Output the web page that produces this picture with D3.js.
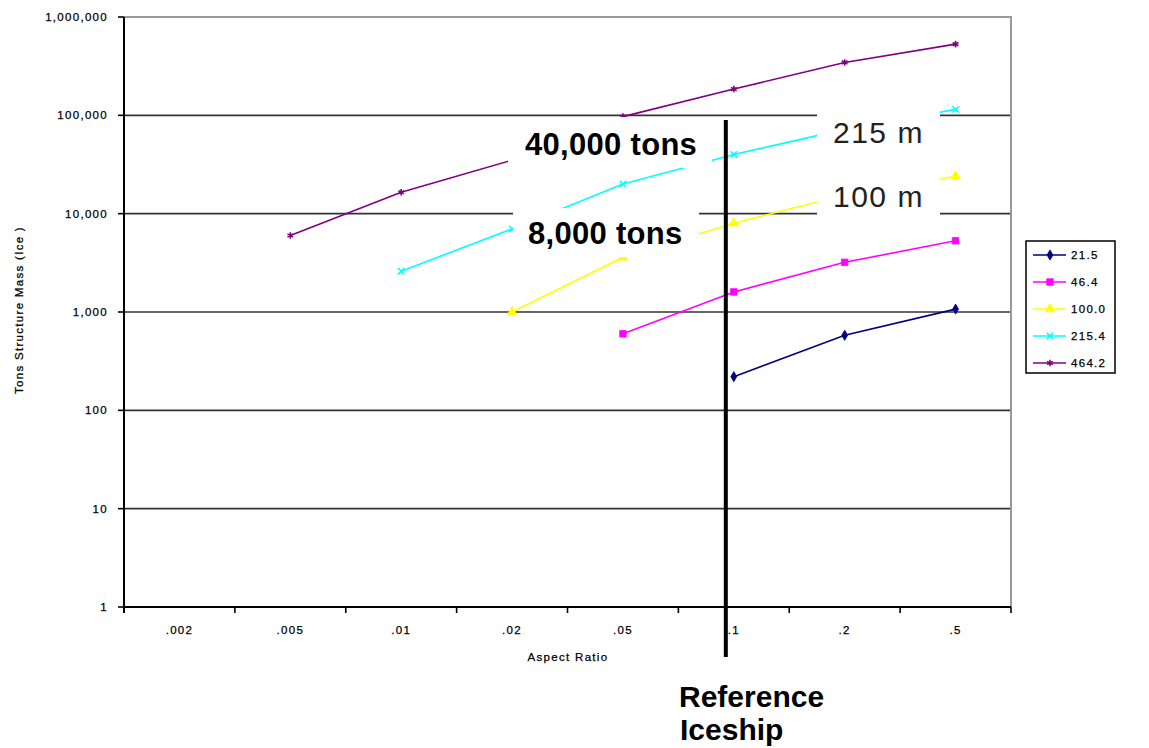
<!DOCTYPE html>
<html>
<head>
<meta charset="utf-8">
<script src="https://cdn.jsdelivr.net/npm/d3@7"></script>
<style>
  html, body { margin: 0; padding: 0; background: #fff; }
  svg { display: block; }
  .tick-label { font-family: "Liberation Sans", Arial, sans-serif; font-size: 11.5px; letter-spacing: 1.3px; fill: #000; stroke: #000; stroke-width: 0.25px; }
</style>
</head>
<body>
<svg id="chart" width="1149" height="748"></svg>
<script>
// Aspect ratio categories (x) and structure mass per ship length (tons of ice)
const categories = [".002", ".005", ".01", ".02", ".05", ".1", ".2", ".5"];
const seriesNames = ["21.5", "46.4", "100.0", "215.4", "464.2"];
const mass21_5  = [null, null, null, null, null, 220, 580, 1070];
const mass46_4  = [null, null, null, null, 600, 1600, 3200, 5300];
const mass100_0 = [null, null, null, 1000, 3600, 8000, 15500, 24000];
const mass215_4 = [null, null, 2600, 7000, 20000, 40000, 72000, 115000];
const mass464_2 = [null, 6000, 16500, 35000, 97000, 185000, 345000, 530000];
const yTicks = [1, 10, 100, 1000, 10000, 100000, 1000000];
const referenceCategory = ".1";

const seriesValues = [mass21_5, mass46_4, mass100_0, mass215_4, mass464_2];
const seriesColors = ["#000080", "#ff00ff", "#ffff00", "#00ffff", "#800080"];
const seriesSymbols = [d3.symbolDiamond, d3.symbolSquare, d3.symbolTriangle, d3.symbolTimes, d3.symbolAsterisk];
const symbolSizes = [30, 42, 40, 28, 30];
const strokeSymbol = [false, false, false, true, true];

const svg = d3.select("#chart");
const plot = { left: 124, right: 1011, top: 17, bottom: 607 };

const x = d3.scaleBand().domain(categories).range([plot.left, plot.right]).padding(0);
const y = d3.scaleLog().domain([1, 1e6]).range([plot.bottom, plot.top]);
const cx = c => x(c) + x.bandwidth() / 2;

// horizontal gridlines at each decade
svg.append("g").selectAll("line")
  .data(yTicks.slice(1))
  .join("line")
  .attr("x1", plot.left).attr("x2", plot.right)
  .attr("y1", d => y(d)).attr("y2", d => y(d))
  .attr("stroke", d => d === 1e6 ? "#999" : "#333")
  .attr("stroke-width", d => d === 1e6 ? 2 : 1.6);

// right border of plot area
svg.append("line")
  .attr("x1", plot.right).attr("x2", plot.right)
  .attr("y1", plot.top - 1).attr("y2", plot.bottom)
  .attr("stroke", "#999").attr("stroke-width", 2);

// series lines and markers
const line = d3.line()
  .defined(d => d.v != null)
  .x(d => cx(d.c))
  .y(d => y(d.v));

function drawMarker(sel, i) {
  sel.attr("d", d3.symbol().type(seriesSymbols[i]).size(symbolSizes[i]))
    .attr("fill", strokeSymbol[i] ? "none" : seriesColors[i])
    .attr("stroke", seriesColors[i])
    .attr("stroke-width", strokeSymbol[i] ? 1.6 : 0.8);
}

seriesValues.forEach((vals, i) => {
  const pts = categories.map((c, j) => ({ c, v: vals[j] }));
  const g = svg.append("g");
  g.append("path")
    .datum(pts)
    .attr("fill", "none")
    .attr("stroke", seriesColors[i])
    .attr("stroke-width", 1.6)
    .attr("d", line);
  g.selectAll("path.m")
    .data(pts.filter(d => d.v != null))
    .join("path")
    .attr("class", "m")
    .attr("transform", d => `translate(${cx(d.c)},${y(d.v)})`)
    .call(drawMarker, i);
});

// white label boxes laid over the chart
const boxes = [
  { x0: 508, y0: 117, x1: 712, y1: 168 },
  { x0: 513, y0: 208, x1: 699, y1: 257 },
  { x0: 817, y0: 100, x1: 940, y1: 216 }
];
svg.append("g").selectAll("rect")
  .data(boxes)
  .join("rect")
  .attr("x", d => d.x0).attr("y", d => d.y0)
  .attr("width", d => d.x1 - d.x0).attr("height", d => d.y1 - d.y0)
  .attr("fill", "#fff");

const fmtTons = d3.format(",");
const boldFont = "'Liberation Sans', Arial, sans-serif";
// mass callouts for the reference aspect ratio
svg.append("text")
  .attr("x", 525).attr("y", 155)
  .attr("font-family", boldFont).attr("font-weight", "bold").attr("font-size", 31)
  .attr("letter-spacing", 0.3)
  .text(`${fmtTons(mass215_4[categories.indexOf(referenceCategory)])} tons`);
svg.append("text")
  .attr("x", 528).attr("y", 244)
  .attr("font-family", boldFont).attr("font-weight", "bold").attr("font-size", 31)
  .attr("letter-spacing", 0.3)
  .text(`${fmtTons(mass100_0[categories.indexOf(referenceCategory)])} tons`);
// ship length callouts
svg.append("text")
  .attr("x", 833).attr("y", 143)
  .attr("font-family", boldFont).attr("font-size", 30).attr("letter-spacing", 1.5)
  .attr("fill", "#222")
  .text("215 m");
svg.append("text")
  .attr("x", 833).attr("y", 207)
  .attr("font-family", boldFont).attr("font-size", 30).attr("letter-spacing", 1.5)
  .attr("fill", "#222")
  .text("100 m");

// reference iceship marker line
const refX = cx(referenceCategory) - 8;
svg.append("line")
  .attr("x1", refX).attr("x2", refX)
  .attr("y1", 120).attr("y2", 657)
  .attr("stroke", "#000").attr("stroke-width", 4);
const refLabel = svg.append("text")
  .attr("font-family", boldFont).attr("font-weight", "bold").attr("font-size", 30);
refLabel.append("tspan").attr("x", 679).attr("y", 707).text("Reference");
refLabel.append("tspan").attr("x", 680).attr("y", 740).text("Iceship");

// y axis
const yAxis = svg.append("g");
yAxis.append("line")
  .attr("x1", plot.left).attr("x2", plot.left)
  .attr("y1", plot.top).attr("y2", plot.bottom + 6)
  .attr("stroke", "#000").attr("stroke-width", 2);
yAxis.selectAll("line.t")
  .data(yTicks)
  .join("line").attr("class", "t")
  .attr("x1", plot.left - 6).attr("x2", plot.left)
  .attr("y1", d => y(d)).attr("y2", d => y(d))
  .attr("stroke", "#000").attr("stroke-width", 1.6);
yAxis.selectAll("text")
  .data(yTicks)
  .join("text")
  .attr("class", "tick-label")
  .attr("x", 108).attr("y", d => y(d) + 4)
  .attr("text-anchor", "end")
  .text(d => d3.format(",")(d));

// x axis
const xAxis = svg.append("g");
xAxis.append("line")
  .attr("x1", plot.left).attr("x2", plot.right)
  .attr("y1", plot.bottom).attr("y2", plot.bottom)
  .attr("stroke", "#000").attr("stroke-width", 2);
const boundaries = categories.map(c => x(c)).concat([plot.right]);
xAxis.selectAll("line.t")
  .data(boundaries)
  .join("line").attr("class", "t")
  .attr("x1", d => d).attr("x2", d => d)
  .attr("y1", plot.bottom).attr("y2", plot.bottom + 6)
  .attr("stroke", "#000").attr("stroke-width", 1.6);
xAxis.selectAll("text")
  .data(categories)
  .join("text")
  .attr("class", "tick-label")
  .attr("x", d => cx(d)).attr("y", 634)
  .attr("text-anchor", "middle")
  .text(d => d);

// axis titles
svg.append("text")
  .attr("class", "tick-label")
  .attr("x", 568).attr("y", 661)
  .attr("text-anchor", "middle")
  .attr("letter-spacing", 3.6)
  .text("Aspect Ratio");
svg.append("text")
  .attr("class", "tick-label")
  .attr("transform", "translate(23,310) rotate(-90)")
  .attr("text-anchor", "middle")
  .attr("letter-spacing", 3.2)
  .text("Tons Structure Mass (Ice )");

// legend
const legend = svg.append("g");
legend.append("rect")
  .attr("x", 1026).attr("y", 241).attr("width", 89).attr("height", 132)
  .attr("fill", "#fff").attr("stroke", "#000").attr("stroke-width", 1.5);
const legendY = d3.scalePoint().domain(seriesNames).range([255, 363]);
seriesNames.forEach((name, i) => {
  const ly = legendY(name);
  legend.append("line")
    .attr("x1", 1033).attr("x2", 1066).attr("y1", ly).attr("y2", ly)
    .attr("stroke", seriesColors[i]).attr("stroke-width", 1.6);
  legend.append("path")
    .attr("transform", `translate(1050,${ly})`)
    .call(drawMarker, i);
  legend.append("text")
    .attr("class", "tick-label")
    .attr("x", 1071).attr("y", ly + 4)
    .text(name);
});
</script>
</body>
</html>
